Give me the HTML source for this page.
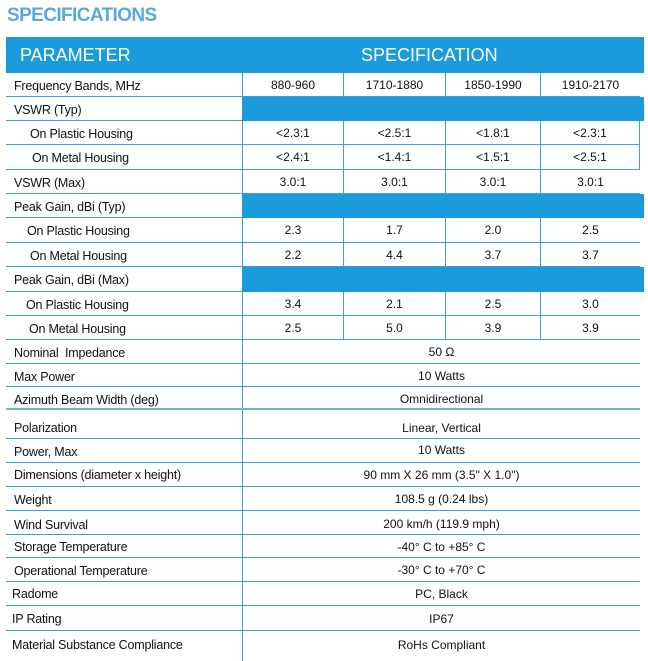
<!DOCTYPE html>
<html><head><meta charset="utf-8"><style>
*{margin:0;padding:0;box-sizing:border-box}
body{width:648px;height:658px;background:#fff;position:relative;overflow:hidden;font-family:"Liberation Sans",sans-serif;color:#111}
.t{position:absolute;left:7px;top:5px;font-size:19px;font-weight:bold;color:#5aa9de;letter-spacing:-0.6px}
.hd{position:absolute;left:6px;top:37px;width:638px;height:36px;background:#1b9bdb;color:#fff;font-size:18px}
.hd span{position:absolute;top:8px}
.r{position:absolute;left:6px;width:634px;border-bottom:1px solid #3a9fdc;font-size:12.5px}
.r .l{position:absolute;top:6px;white-space:nowrap;letter-spacing:-0.2px}
.c{position:absolute;top:0;bottom:0;border-left:1px solid #3a9fdc;text-align:center;padding-top:5px;font-size:12px}
.b{position:absolute;left:236px;right:-4px;top:0;bottom:-1px;background:#1b9bdb}
</style></head><body>
<div class="t">SPECIFICATIONS</div>
<div class="hd"><span style="left:14px">PARAMETER</span><span style="left:355px">SPECIFICATION</span></div>

<div class="r" style="top:73px;height:24px"><div class="l" style="left:8px">Frequency Bands, MHz</div>
<div class="c" style="left:236px;width:101px">880-960</div><div class="c" style="left:337px;width:102px">1710-1880</div><div class="c" style="left:439px;width:95px">1850-1990</div><div class="c" style="left:534px;width:100px">1910-2170</div></div>
<div class="r" style="top:97px;height:24px"><div class="l" style="left:8px">VSWR (Typ)</div><div class="b"></div></div>
<div class="r" style="top:121px;height:24px"><div class="l" style="left:24px">On Plastic Housing</div>
<div class="c" style="left:236px;width:101px">&lt;2.3:1</div><div class="c" style="left:337px;width:102px">&lt;2.5:1</div><div class="c" style="left:439px;width:95px">&lt;1.8:1</div><div class="c" style="left:534px;width:100px;border-right:1px solid #3a9fdc">&lt;2.3:1</div></div>
<div class="r" style="top:145px;height:25px"><div class="l" style="left:26px">On Metal Housing</div>
<div class="c" style="left:236px;width:101px">&lt;2.4:1</div><div class="c" style="left:337px;width:102px">&lt;1.4:1</div><div class="c" style="left:439px;width:95px">&lt;1.5:1</div><div class="c" style="left:534px;width:100px;border-right:1px solid #3a9fdc">&lt;2.5:1</div></div>
<div class="r" style="top:170px;height:24px"><div class="l" style="left:8px">VSWR (Max)</div>
<div class="c" style="left:236px;width:101px">3.0:1</div><div class="c" style="left:337px;width:102px">3.0:1</div><div class="c" style="left:439px;width:95px">3.0:1</div><div class="c" style="left:534px;width:100px">3.0:1</div></div>
<div class="r" style="top:194px;height:24px"><div class="l" style="left:8px">Peak Gain, dBi (Typ)</div><div class="b"></div></div>
<div class="r" style="top:218px;height:25px"><div class="l" style="left:21px">On Plastic Housing</div>
<div class="c" style="left:236px;width:101px">2.3</div><div class="c" style="left:337px;width:102px">1.7</div><div class="c" style="left:439px;width:95px">2.0</div><div class="c" style="left:534px;width:100px">2.5</div></div>
<div class="r" style="top:243px;height:24px"><div class="l" style="left:24px">On Metal Housing</div>
<div class="c" style="left:236px;width:101px">2.2</div><div class="c" style="left:337px;width:102px">4.4</div><div class="c" style="left:439px;width:95px">3.7</div><div class="c" style="left:534px;width:100px">3.7</div></div>
<div class="r" style="top:267px;height:25px"><div class="l" style="left:8px">Peak Gain, dBi (Max)</div><div class="b"></div></div>
<div class="r" style="top:292px;height:24px"><div class="l" style="left:20px">On Plastic Housing</div>
<div class="c" style="left:236px;width:101px">3.4</div><div class="c" style="left:337px;width:102px">2.1</div><div class="c" style="left:439px;width:95px">2.5</div><div class="c" style="left:534px;width:100px">3.0</div></div>
<div class="r" style="top:316px;height:24px"><div class="l" style="left:23px">On Metal Housing</div>
<div class="c" style="left:236px;width:101px">2.5</div><div class="c" style="left:337px;width:102px">5.0</div><div class="c" style="left:439px;width:95px">3.9</div><div class="c" style="left:534px;width:100px">3.9</div></div>

<div class="r" style="top:340px;height:24px"><div class="l" style="left:8px">Nominal&nbsp; Impedance</div><div class="c" style="left:236px;width:398px">50 Ω</div></div>
<div class="r" style="top:364px;height:23px"><div class="l" style="left:8px">Max Power</div><div class="c" style="left:236px;width:398px">10 Watts</div></div>
<div class="r" style="top:387px;height:23px;border-bottom:2px solid #6ab3e3"><div class="l" style="left:8px">Azimuth Beam Width (deg)</div><div class="c" style="left:236px;width:398px">Omnidirectional</div></div>
<div class="r" style="top:410px;height:29px"><div class="l" style="left:8px;top:11px">Polarization</div><div class="c" style="left:236px;width:398px;padding-top:11px">Linear, Vertical</div></div>
<div class="r" style="top:439px;height:24px"><div class="l" style="left:8px;top:6px">Power, Max</div><div class="c" style="left:236px;width:398px;padding-top:4px">10 Watts</div></div>
<div class="r" style="top:463px;height:24px"><div class="l" style="left:8px;top:5px">Dimensions (diameter x height)</div><div class="c" style="left:236px;width:398px;padding-top:5px">90 mm X 26 mm (3.5" X 1.0")</div></div>
<div class="r" style="top:487px;height:24px"><div class="l" style="left:8px;top:6px">Weight</div><div class="c" style="left:236px;width:398px;padding-top:5px">108.5 g (0.24 lbs)</div></div>
<div class="r" style="top:511px;height:24px"><div class="l" style="left:8px;top:7px">Wind Survival</div><div class="c" style="left:236px;width:398px;padding-top:6px">200 km/h (119.9 mph)</div></div>
<div class="r" style="top:535px;height:23px"><div class="l" style="left:8px;top:5px">Storage Temperature</div><div class="c" style="left:236px;width:398px">-40° C to +85° C</div></div>
<div class="r" style="top:558px;height:24px"><div class="l" style="left:8px;top:6px">Operational Temperature</div><div class="c" style="left:236px;width:398px">-30° C to +70° C</div></div>
<div class="r" style="top:582px;height:24px"><div class="l" style="left:6px;top:5px">Radome</div><div class="c" style="left:236px;width:398px">PC, Black</div></div>
<div class="r" style="top:606px;height:25px"><div class="l" style="left:6px;top:6px">IP Rating</div><div class="c" style="left:236px;width:398px;padding-top:6px">IP67</div></div>
<div class="r" style="top:631px;height:30px;border-bottom:none"><div class="l" style="left:6px;top:7px">Material Substance Compliance</div><div class="c" style="left:236px;width:398px;padding-top:7px">RoHs Compliant</div></div>
</body></html>
